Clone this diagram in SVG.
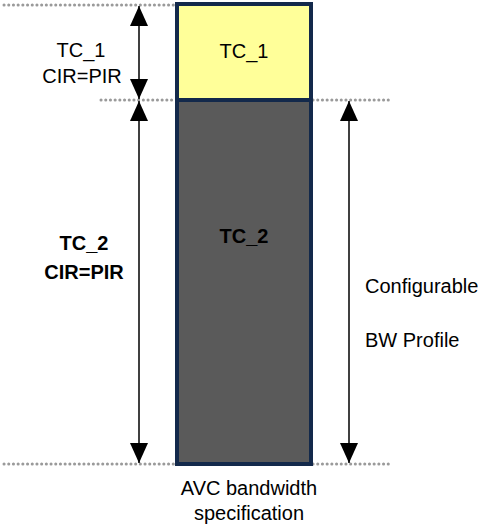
<svg xmlns="http://www.w3.org/2000/svg" width="485" height="525" viewBox="0 0 485 525">
<style>
.dot{stroke:#9a9a9a;stroke-width:3;stroke-linecap:round;stroke-dasharray:0.1 4.6;fill:none}
.arr{stroke:#000;stroke-width:1.5;fill:none;marker-start:url(#ah);marker-end:url(#ah)}
text{font-family:"Liberation Sans",Arial,sans-serif;font-size:20px;fill:#000}
.b{font-weight:bold}
</style>
<defs>
<marker id="ah" viewBox="0 0 20 18" refX="20" refY="9" markerWidth="20" markerHeight="18" markerUnits="userSpaceOnUse" orient="auto-start-reverse">
<path d="M0,0 L20,9 L0,18 z" fill="#000"/>
</marker>
</defs>
<g id="guides">
<line class="dot" x1="4" y1="5" x2="175" y2="5"/>
<line class="dot" x1="101" y1="100" x2="175" y2="100"/>
<line class="dot" x1="313" y1="100" x2="390" y2="100"/>
<line class="dot" x1="4" y1="464" x2="175" y2="464"/>
<line class="dot" x1="313" y1="464" x2="390" y2="464"/>
</g>
<g id="tc1">
<rect x="177" y="4" width="134" height="96" fill="#ffff99" stroke="#13294b" stroke-width="4"/>
<text x="244" y="58" text-anchor="middle">TC_1</text>
</g>
<g id="tc2">
<rect x="177" y="100" width="134" height="364" fill="#5a5a5a" stroke="#13294b" stroke-width="4"/>
<text x="244" y="243" text-anchor="middle" class="b">TC_2</text>
</g>
<g id="connectors">
<line class="arr" x1="139" y1="6" x2="139" y2="99"/>
<line class="arr" x1="139" y1="101" x2="139" y2="463"/>
<line class="arr" x1="349" y1="101" x2="349" y2="463"/>
</g>
<g id="labels">
<text x="81" y="57" text-anchor="middle">TC_1</text>
<text x="82" y="83" text-anchor="middle">CIR=PIR</text>
<text x="84" y="250" text-anchor="middle" class="b">TC_2</text>
<text x="84" y="279" text-anchor="middle" class="b">CIR=PIR</text>
<text x="365" y="293">Configurable</text>
<text x="365" y="347">BW Profile</text>
<text x="249" y="495" text-anchor="middle">AVC bandwidth</text>
<text x="249" y="520" text-anchor="middle">specification</text>
</g>
</svg>
